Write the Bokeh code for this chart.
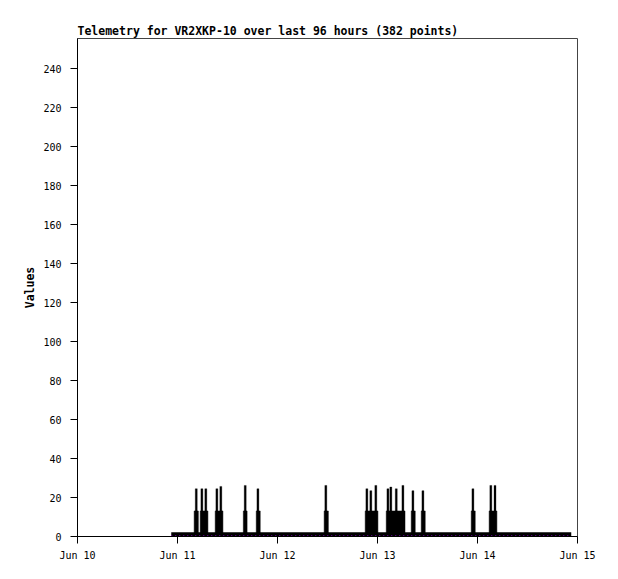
import pandas as pd
from bokeh.plotting import figure
from bokeh.models import FixedTicker, DatetimeTickFormatter, Range1d, ColumnDataSource
from bokeh.embed import file_html
from bokeh.resources import INLINE

# ---- data (hours since Jun 10 00:00) ----
day0 = "2024-06-10"
day_ticks = ["2024-06-10", "2024-06-11", "2024-06-12", "2024-06-13", "2024-06-14", "2024-06-15"]
y_ticks = [0, 20, 40, 60, 80, 100, 120, 140, 160, 180, 200, 220, 240]

base_start_h = 22.5
base_end_h = 118.5
base_value = 1.1

# blocks where the series sits at the ~13 level
block_start_h = [28.0, 29.45, 33.05, 39.8, 42.9, 59.2, 69.05, 74.1, 80.1, 82.5, 94.5, 98.8]
block_end_h   = [29.0, 31.3, 34.9, 40.7, 43.85, 60.2, 72.1, 78.6, 81.05, 83.45, 95.45, 100.65]
block_level = 13.1

# peaks
spike_h = [28.5, 29.85, 30.8, 33.45, 34.4, 40.25, 43.3, 59.6, 69.45, 70.4, 71.6,
           74.5, 75.2, 76.5, 78.1, 80.5, 82.9, 94.9, 99.2, 100.2]
spike_v = [24.5, 24.5, 24.5, 24.5, 25.7, 26.2, 24.5, 26.2, 24.5, 23.5, 26.2,
           24.5, 25.4, 24.5, 26.2, 23.5, 23.5, 24.5, 26.2, 26.2]

t0 = pd.Timestamp(day0)
def to_dt(hours):
    return [t0 + pd.Timedelta(hours=h) for h in hours]

p = figure(width=602, height=563, x_axis_type="datetime",
           output_backend="svg", toolbar_location=None,
           min_border_left=77, min_border_right=25, min_border_top=38, min_border_bottom=25,
           x_range=Range1d(pd.Timestamp(day_ticks[0]), pd.Timestamp(day_ticks[-1])),
           y_range=Range1d(0, 255.5))

p.title.text = "Telemetry for VR2XKP-10 over last 96 hours (382 points)"
p.title.text_font = "DejaVu Sans Mono"
p.title.text_font_style = "bold"
p.title.text_font_size = "11.5px"
p.title.text_color = "black"
p.title.align = "left"
p.title.standoff = 2
p.title.offset = 0

p.background_fill_color = "white"
p.border_fill_color = "white"
p.outline_line_color = "#444444"
p.outline_line_width = 1
p.xgrid.visible = False
p.ygrid.visible = False

# baseline
p.line(x=to_dt([base_start_h, base_end_h]), y=[base_value, base_value],
       line_color="black", line_width=4.3)

# ~13 level blocks
blk = ColumnDataSource(dict(left=to_dt(block_start_h), right=to_dt(block_end_h),
                            top=[block_level] * len(block_start_h),
                            bottom=[base_value] * len(block_start_h)))
p.quad(left="left", right="right", top="top", bottom="bottom", source=blk,
       fill_color="black", line_color="black", line_width=0.5)

# peaks
sp = ColumnDataSource(dict(x=to_dt(spike_h), top=spike_v, bottom=[block_level] * len(spike_h)))
p.vbar(x="x", top="top", bottom="bottom", width=0.48 * 3600 * 1000, source=sp,
       fill_color="black", line_color="black", line_width=0.3)

# second series near zero
p.line(x=to_dt([base_start_h, base_end_h]), y=[0.3, 0.3],
       line_color="#9400D3", line_width=1.2, line_dash="1 3")

# axes
for ax in (p.xaxis[0], p.yaxis[0]):
    ax.axis_line_color = "black"
    ax.major_tick_line_color = "black"
    ax.major_tick_out = 7
    ax.major_tick_in = 0
    ax.minor_tick_line_color = None
    ax.major_label_text_font = "DejaVu Sans Mono"
    ax.major_label_text_font_size = "10px"
    ax.major_label_text_color = "black"

p.xaxis.ticker = FixedTicker(ticks=[pd.Timestamp(d).value // 10**6 for d in day_ticks])
p.xaxis.formatter = DatetimeTickFormatter(days="%b %d", months="%b %d", hours="%b %d")
p.xaxis.major_label_standoff = 6

p.yaxis.ticker = FixedTicker(ticks=y_ticks)
p.yaxis.major_label_standoff = 9
p.yaxis.axis_label = "Values"
p.yaxis.axis_label_text_font = "DejaVu Sans Mono"
p.yaxis.axis_label_text_font_style = "bold"
p.yaxis.axis_label_text_font_size = "11.5px"
p.yaxis.axis_label_text_color = "black"
p.yaxis.axis_label_standoff = 3

open("out.html", "w").write(file_html(p, INLINE))
